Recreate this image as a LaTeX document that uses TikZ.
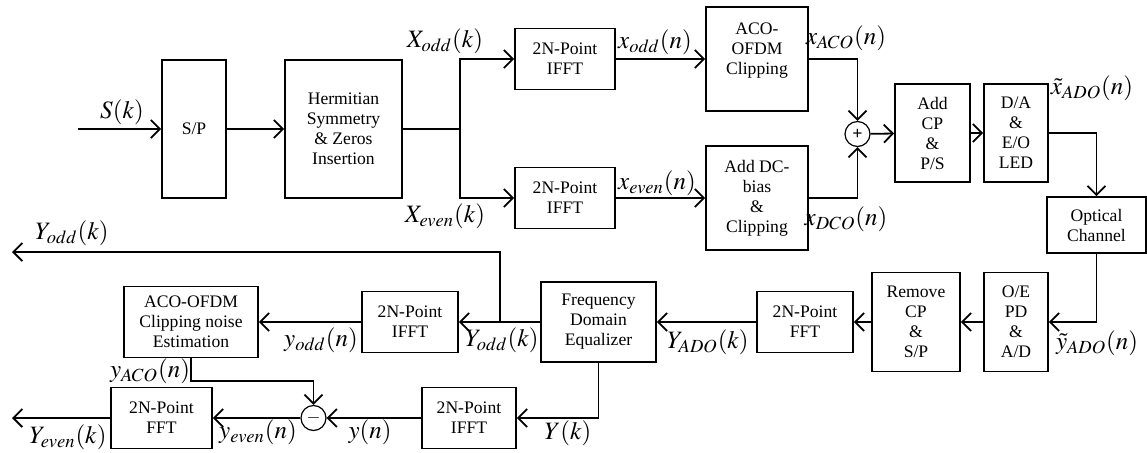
\documentclass[tikz,border=0pt]{standalone}
\usepackage{mathptmx}
\usepackage{fontspec}
\setmainfont{Liberation Serif}
\usetikzlibrary{arrows.meta, positioning, calc}

\begin{document}
\begin{tikzpicture}[x=0.5pt, y=-0.5pt, line width=0.9pt,
    blk/.style={draw, align=center, inner sep=1pt, font=\fontsize{8.8}{10}\selectfont},
    lbl/.style={inner sep=0pt, font=\fontsize{12.5}{14}\selectfont},
    sumc/.style={circle, draw, line width=0.6pt, minimum size=12.5pt, inner sep=0pt, font=\bfseries\fontsize{9}{9}\selectfont},
    arr/.style={-{Straight Barb[length=4.5pt, width=9pt]}}]
    \useasboundingbox (0,0) rectangle (1147,452);

    % transmitter
    \node[blk, minimum width=32pt, minimum height=69pt] (sp) at (194,129) {S/P};
    \node[blk, minimum width=58.5pt, minimum height=69pt] (herm) at (343.5,129) {Hermitian\\Symmetry\\\& Zeros\\Insertion};
    \node[blk, minimum width=50pt, minimum height=30.5pt] (ifftA) at (565,59) {2N-Point\\IFFT};
    \node[blk, minimum width=50pt, minimum height=30.5pt] (ifftB) at (565,198) {2N-Point\\IFFT};
    \node[blk, minimum width=51pt, minimum height=52pt] (aco) at (757,59) {ACO-\\OFDM\\Clipping\\ \mbox{}};
    \node[blk, minimum width=51pt, minimum height=52pt] (dcb) at (757,198) {Add DC-\\bias\\\&\\Clipping};
    \node[sumc] (sum) at (857.5,134) {+};
    \node[blk, minimum width=37.5pt, minimum height=49pt] (addcp) at (932.5,133) {Add\\CP\\\&\\P/S};
    \node[blk, minimum width=32pt, minimum height=49pt] (dae) at (1016,133) {D/A\\\&\\E/O\\LED};
    \node[blk, minimum width=49.5pt, minimum height=28pt] (chan) at (1096.5,225) {Optical\\Channel};

    % receiver
    \node[blk, minimum width=32pt, minimum height=49.5pt] (oepd) at (1016,322) {O/E\\PD\\\&\\A/D};
    \node[blk, minimum width=44pt, minimum height=49.5pt] (rmcp) at (916,322) {Remove\\CP\\\&\\S/P};
    \node[blk, minimum width=48pt, minimum height=30.5pt] (fftA) at (805,322) {2N-Point\\FFT};
    \node[blk, minimum width=57.5pt, minimum height=40pt] (fde) at (598.5,322) {Frequency\\Domain\\Equalizer};
    \node[blk, minimum width=48pt, minimum height=30.5pt] (ifftC) at (410,322) {2N-Point\\IFFT};
    \node[blk, minimum width=67pt, minimum height=35.5pt] (est) at (191,322) {ACO-OFDM\\Clipping noise\\Estimation};
    \node[blk, minimum width=47pt, minimum height=30.5pt] (ifftD) at (469,418) {2N-Point\\IFFT};
    \node[sumc] (dif) at (313.5,418) {$-$};
    \node[blk, minimum width=50.5pt, minimum height=30.5pt] (fftB) at (161.5,418) {2N-Point\\FFT};

    \coordinate (sin) at (78,129);
    \coordinate (split) at (460,129);
    \coordinate (br) at (500,322);
    \coordinate (yodd) at (12,252);
    \coordinate (ebend) at (313.5,381);
    \coordinate (yeven) at (12,418);

    \draw[arr] (sin) -- (sp);
    \draw[arr] (sp) -- (herm);
    \draw (herm) -- (split);
    \draw[arr] (split) |- (ifftA);
    \draw[arr] (split) |- (ifftB);
    \draw[arr] (ifftA) -- (aco);
    \draw[arr] (ifftB) -- (dcb);
    \draw[arr] (aco) -| (sum);
    \draw[arr] (dcb) -| (sum);
    \draw[arr] (sum) -- (addcp);
    \draw[arr] (addcp) -- (dae);
    \draw[arr] (dae) -| (chan);
    \draw[arr] (chan) |- (oepd);
    \draw[arr] (oepd) -- (rmcp);
    \draw[arr] (rmcp) -- (fftA);
    \draw[arr] (fftA) -- (fde);
    \draw[arr] (fde) -- (ifftC);
    \draw[arr] (br) |- (yodd);
    \draw[arr] (ifftC) -- (est);
    \draw[arr] (est.south) |- (ebend) -- (dif);
    \draw[arr] (fde) |- (ifftD);
    \draw[arr] (ifftD) -- (dif);
    \draw[arr] (dif) -- (fftB);
    \draw[arr] (fftB) -- (yeven);

    % signal labels
    \node[lbl] (lS) at (122,112) {$S(k)$};
    \node[lbl] (lXo) at (445,41) {$X_{odd}(k)$};
    \node[lbl] (lXe) at (445,216) {$X_{even}(k)$};
    \node[lbl] (lxo) at (655,42) {$x_{odd}(n)$};
    \node[lbl] (lxe) at (657,183) {$x_{even}(n)$};
    \node[lbl] (lxa) at (846,38) {$x_{ACO}(n)$};
    \node[lbl] (lxd) at (846,219) {$x_{DCO}(n)$};
    \node[lbl] (lxt) at (1092,88) {$\tilde{x}_{ADO}(n)$};
    \node[lbl] (lyt) at (1097,343) {$\tilde{y}_{ADO}(n)$};
    \node[lbl] (lYa) at (708,342) {$Y_{ADO}(k)$};
    \node[lbl] (lYo) at (502,340) {$Y_{odd}(k)$};
    \node[lbl] (lYo2) at (72,233) {$Y_{odd}(k)$};
    \node[lbl] (lyo) at (321,340) {$y_{odd}(n)$};
    \node[lbl] (lya) at (150,371) {$y_{ACO}(n)$};
    \node[lbl] (lY) at (568,433) {$Y(k)$};
    \node[lbl] (ly) at (370,432) {$y(n)$};
    \node[lbl] (lye) at (258,432) {$y_{even}(n)$};
    \node[lbl] (lYe) at (68,437) {$Y_{even}(k)$};
\end{tikzpicture}
\end{document}
